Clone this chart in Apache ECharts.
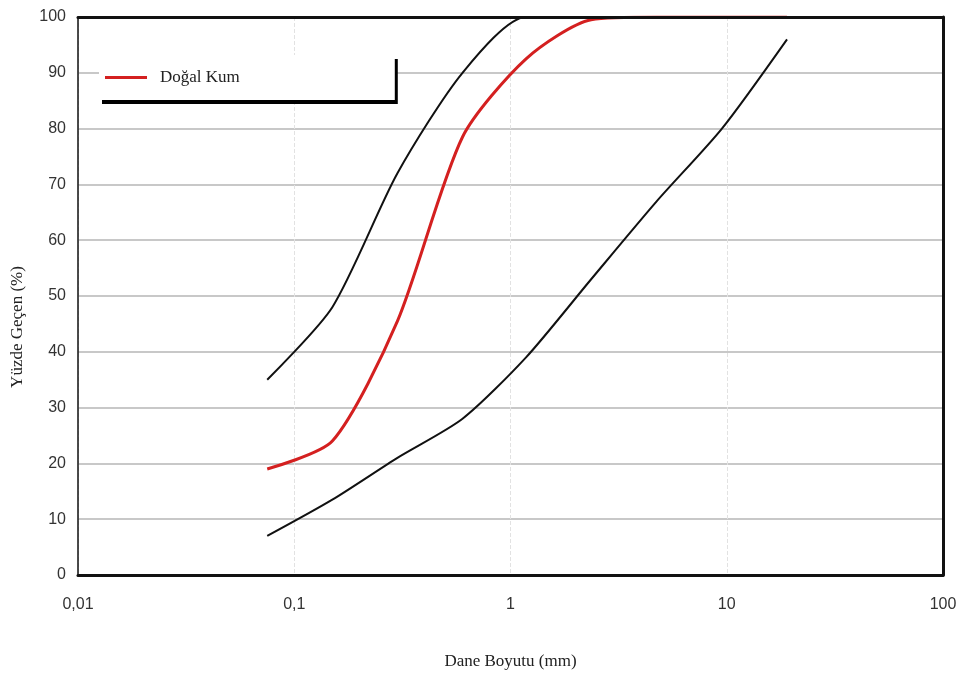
<!DOCTYPE html>
<html>
<head>
<meta charset="utf-8">
<title>Dane Boyutu Dağılımı</title>
<script src="https://cdn.jsdelivr.net/npm/echarts@6/dist/echarts.min.js"></script>
<style>
  html, body { margin: 0; padding: 0; background: #fff; }
  #chart { width: 967px; height: 677px; }
</style>
</head>
<body>
<div id="chart"></div>
<script>
// elek açıklıkları (mm)
const sieves = [0.075, 0.15, 0.3, 0.6, 1.18, 2.36, 4.75, 9.5, 19];
// üst sınır
const upperLimit = [35, 48, 72, 90, 100, 100, 100, 100, 100];
// doğal kum
const dogalKum = [19, 24, 45.5, 78.5, 92.5, 99.5, 100, 100, 100];
// alt sınır
const lowerLimit = [7, 13.5, 21, 28, 39, 53, 67, 80, 96];

// x ekseni etiketleri
const xTickLabels = { 0.01: "0,01", 0.1: "0,1", 1: "1", 10: "10", 100: "100" };

function pairs(ys) {
  return sieves.map(function (x, i) { return [x, ys[i]]; });
}

const serif = "Liberation Serif";
const sans = "Liberation Sans";
const frameColor = "#111";

// çerçeve için sadece çizgisi görünen eksen
function frameAxis(type, position, width) {
  let ax = {
    type: type,
    position: position,
    axisLine: { show: true, onZero: false, lineStyle: { color: frameColor, width: width } },
    axisTick: { show: false },
    axisLabel: { show: false },
    splitLine: { show: false },
    z: 12
  };
  if (type === "log") {
    ax.logBase = 10; ax.min = 0.01; ax.max = 100;
  } else {
    ax.min = 0; ax.max = 100; ax.interval = 10;
  }
  return ax;
}

let chart = echarts.init(document.getElementById("chart"));

chart.setOption({
  backgroundColor: "#fff",
  animation: false,
  grid: {
    left: 78,
    right: 24,
    top: 17,
    bottom: 102
  },
  legend: {
    data: [{ name: "Doğal Kum", icon: "rect" }],
    left: 99,
    top: 55,
    padding: [14, 155, 14, 6],
    itemWidth: 42,
    itemHeight: 3,
    itemGap: 14,
    backgroundColor: "#fff",
    borderWidth: 0,
    shadowColor: "#000",
    shadowBlur: 0,
    shadowOffsetX: 3,
    shadowOffsetY: 4,
    textStyle: { fontFamily: serif, fontSize: 17, color: "#222", padding: [0, 0, 0, 8] }
  },
  xAxis: [
    {
      type: "log",
      logBase: 10,
      min: 0.01,
      max: 100,
      name: "Dane Boyutu (mm)",
      nameLocation: "middle",
      nameGap: 78,
      nameTextStyle: { fontFamily: serif, fontSize: 17, color: "#222" },
      axisLine: { show: false },
      axisTick: { show: false },
      axisLabel: {
        margin: 22,
        fontFamily: sans,
        fontSize: 16,
        color: "#333",
        formatter: function (v) {
          return xTickLabels[v] !== undefined ? xTickLabels[v] : "";
        }
      },
      splitLine: { show: true, lineStyle: { color: "#e2e2e2", type: "dashed", width: 1 } },
      z: 1
    },
    frameAxis("log", "top", 3),
    frameAxis("log", "bottom", 3)
  ],
  yAxis: [
    {
      type: "value",
      min: 0,
      max: 100,
      interval: 10,
      name: "Yüzde Geçen (%)",
      nameLocation: "middle",
      nameGap: 52,
      nameTextStyle: { fontFamily: serif, fontSize: 17, color: "#222", padding: [0, 62, 0, 0] },
      axisLine: { show: false },
      axisTick: { show: false },
      axisLabel: { margin: 12, fontFamily: sans, fontSize: 16, color: "#333" },
      splitLine: { show: true, lineStyle: { color: "#c8c8c8", width: 2 } },
      z: 1
    },
    frameAxis("value", "right", 3),
    frameAxis("value", "left", 1.5)
  ],
  series: [
    {
      name: "Üst Sınır",
      type: "line",
      data: pairs(upperLimit),
      symbol: "none",
      smooth: 0.25,
      lineStyle: { color: "#111", width: 2 },
      z: 3
    },
    {
      name: "Doğal Kum",
      type: "line",
      data: pairs(dogalKum),
      symbol: "none",
      smooth: 0.25,
      color: "#d42020",
      lineStyle: { color: "#d42020", width: 3 },
      z: 4
    },
    {
      name: "Alt Sınır",
      type: "line",
      data: pairs(lowerLimit),
      symbol: "none",
      smooth: 0.25,
      lineStyle: { color: "#111", width: 2 },
      z: 3
    }
  ]
});
</script>
</body>
</html>
